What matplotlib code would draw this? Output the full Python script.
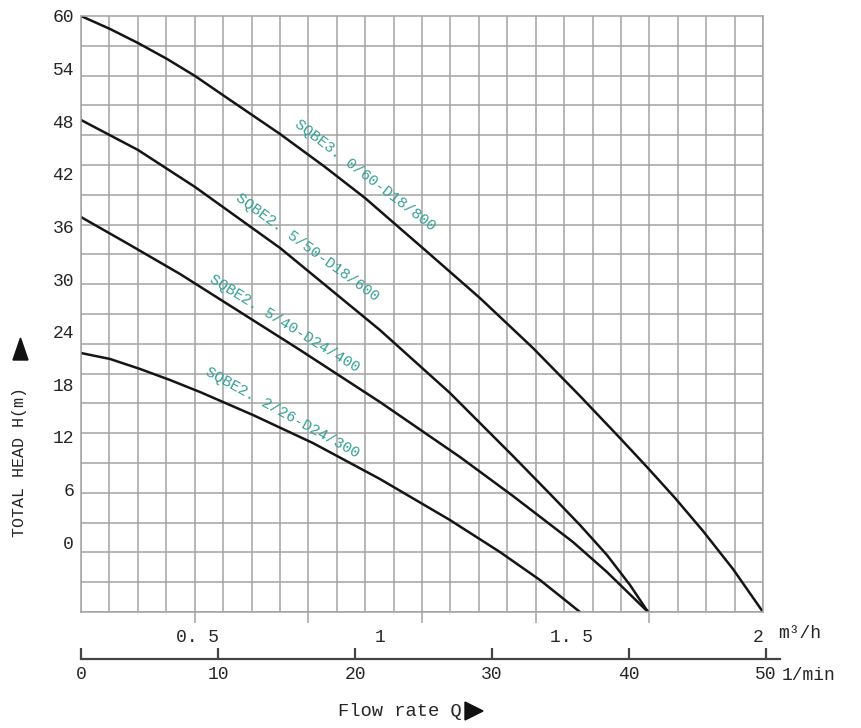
import matplotlib.pyplot as plt
from matplotlib.patches import Polygon
import numpy as np

# pump curves: flow in l/min, head in m
q_800 = [0, 2.12, 4.16, 6.28, 8.32, 10.88, 14.53, 17.81, 20.73, 25.11, 29.12,
         32.99, 36.42, 39.34, 41.31, 43.36, 45.40, 47.59, 49.78]
h_800 = [60, 58.52, 56.92, 55.10, 53.16, 50.42, 46.54, 42.78, 39.24, 33.31, 27.83,
         22.13, 16.66, 11.86, 8.56, 5.02, 1.26, -3.08, -7.98]

q_600 = [0, 4.16, 8.32, 14.53, 21.82, 26.93, 31.53, 34.45, 36.42, 38.39, 40.07, 41.39]
h_600 = [48.14, 44.72, 40.50, 33.54, 24.18, 17.0, 9.81, 5.14, 1.94, -1.48, -4.90, -7.98]

q_400 = [0, 3.58, 7.23, 11.61, 15.99, 21.82, 27.66, 31.53, 35.91, 38.39, 41.39]
h_400 = [37.07, 33.88, 30.57, 26.24, 21.90, 15.97, 9.70, 5.25, 0.0, -3.42, -7.98]

q_300 = [0, 2.12, 4.31, 6.50, 8.69, 12.55, 16.93, 21.82, 26.93, 30.58, 33.50, 36.42]
h_300 = [21.56, 20.88, 19.74, 18.48, 17.11, 14.49, 11.29, 7.19, 2.51, -1.14, -4.33, -7.98]

names = ["SQBE3. 0/60-D18/800", "SQBE2. 5/50-D18/600",
         "SQBE2. 5/40-D24/400", "SQBE2. 2/26-D24/300"]

head_ticks = [0, 6, 12, 18, 24, 30, 36, 42, 48, 54, 60]
m3h_labels = ["0. 5", "1", "1. 5", "2"]
m3h_pos = [8.5, 21.8, 35.8, 49.4]
lmin_ticks = [0, 10, 20, 30, 40, 50]

mono = "Liberation Mono"
teal = "#35a095"
gridc = "#a3a3a3"
txt = "#262626"

fig = plt.figure(figsize=(8.61, 7.28), dpi=100)
ax = fig.add_axes([81/861, 1-612/728, (763-81)/861, (612-16)/728])
xmax, ymin, ymax = 49.78, -7.98, 60
ax.set_xlim(0, xmax)
ax.set_ylim(ymin, ymax)

# grid
ax.set_xticks(np.linspace(0, xmax, 25), minor=True)
ax.set_yticks(np.linspace(ymin, ymax, 21), minor=True)
ax.grid(which='minor', color=gridc, lw=1.1)
ax.tick_params(which='minor', length=0)
for s in ax.spines.values():
    s.set_color(gridc)
    s.set_linewidth(1.1)

# longer ticks below grid every 4 columns
ext = np.linspace(0, xmax, 25)[4:21:4]
ax.vlines(ext, ymin - 1.25, ymin, color=gridc, lw=1.1, clip_on=False)

# curves
for q, h in [(q_800, h_800), (q_600, h_600), (q_400, h_400), (q_300, h_300)]:
    ax.plot(q, h, color="#151515", lw=1.8, solid_joinstyle='round')

# curve names
lab_xy = [(20.73, 41.86), (16.5, 33.65), (14.82, 24.98), (14.67, 14.72)]
lab_rot = [-37.5, -36, -31.6, -28.8]
for n, (x, y), r in zip(names, lab_xy, lab_rot):
    ax.text(x, y, n, color=teal, fontsize=11, family=mono, rotation=r,
            rotation_mode='anchor', ha='center', va='center')

# axes ticks
ax.set_yticks(head_ticks)
ax.set_yticklabels([str(v) for v in head_ticks], family=mono, fontsize=13, color=txt)
ax.set_xticks(m3h_pos)
ax.set_xticklabels(m3h_labels, family=mono, fontsize=13, color=txt)
ax.tick_params(which='major', length=0)
ax.tick_params(axis='y', pad=5)
ax.tick_params(axis='x', pad=12)

# second flow scale (l/min)
ax2 = fig.add_axes([81/861, 1-659/728, (780-81)/861, 0.0005])
ax2.set_xlim(0, (780-81)/13.7)
ax2.set_yticks([])
for k in ['top', 'left', 'right']:
    ax2.spines[k].set_visible(False)
ax2.spines['bottom'].set_color("#444")
ax2.spines['bottom'].set_linewidth(1.6)
ax2.set_xticks(lmin_ticks)
ax2.set_xticklabels([str(v) for v in lmin_ticks], family=mono, fontsize=13, color=txt)
ax2.tick_params(axis='x', direction='in', length=8, width=1.6, color="#444", pad=5)

# units and titles
fig.text(778/861, 1-633/728, "m³/h", family=mono, fontsize=13, ha='left', va='center', color=txt)
fig.text(782/861, 1-676/728, "1/min", family=mono, fontsize=13, ha='left', va='center', color=txt)
fig.text(400/861, 1-711/728, "Flow rate Q", family=mono, fontsize=13.5, ha='center', va='center', color=txt)
fig.text(20/861, 1-462/728, "TOTAL HEAD H(m)", family=mono, fontsize=12, rotation=90,
         ha='center', va='center', color=txt)

# arrow heads
W, H = 861, 728
up = [(13, 360), (28, 360), (20.5, 338)]
right = [(465, 702), (465, 720), (483, 711)]
for tri in (up, right):
    fig.add_artist(Polygon([(x/W, 1-y/H) for x, y in tri], closed=True,
                           transform=fig.transFigure, color="#111"))

fig.savefig("out.png", dpi=100)
